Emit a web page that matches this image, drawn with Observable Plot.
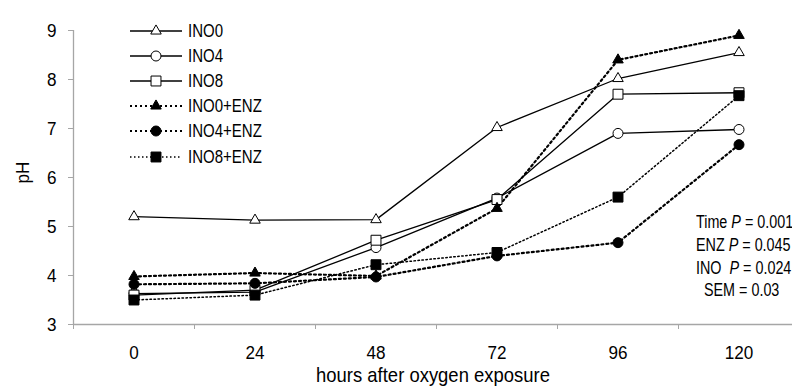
<!DOCTYPE html>
<html><head><meta charset="utf-8">
<script src="https://cdn.jsdelivr.net/npm/d3@7"></script>
<script src="https://cdn.jsdelivr.net/npm/@observablehq/plot@0.6"></script>
<style>
body{margin:0;background:#fff;font-family:"Liberation Sans",Arial,sans-serif;}
#wrap{position:relative;width:792px;height:388px;overflow:hidden;}
#legend{position:absolute;left:130px;top:18px;font-size:19px;color:#000;}
#legend .row{height:25.2px;display:flex;align-items:center;}
#legend svg{display:block;margin-right:6px;}
#legend span{display:inline-block;transform:scaleX(0.79);transform-origin:0 50%;}
#note{position:absolute;left:696px;top:211px;font-size:17.5px;line-height:22.8px;color:#000;white-space:nowrap;transform:scaleX(0.82);transform-origin:0 0;}
</style></head><body>
<div id="wrap"><div id="chart"></div><div id="legend"></div><div id="note"></div></div>
<script>
const hours = [0, 24, 48, 72, 96, 120];
const seriesNames = ["INO0", "INO4", "INO8", "INO0+ENZ", "INO4+ENZ", "INO8+ENZ"];
const ino0    = [5.20, 5.13, 5.14, 7.02, 8.02, 8.55];
const ino4    = [3.63, 3.66, 4.57, 5.58, 6.90, 6.98];
const ino8    = [3.60, 3.70, 4.72, 5.55, 7.70, 7.73];
const ino0enz = [3.98, 4.05, 3.99, 5.37, 8.40, 8.90];
const ino4enz = [3.82, 3.84, 3.97, 4.40, 4.67, 6.67];
const ino8enz = [3.50, 3.60, 4.22, 4.47, 5.60, 7.67];
const yTicks = [3, 4, 5, 6, 7, 8, 9];
const notes = [["Time ", "P", " = 0.001"], ["ENZ ", "P", " = 0.045"], ["INO\u00a0 ", "P", " = 0.024"], ["\u00a0\u00a0SEM = 0.03", "", ""]];

const values = [ino0, ino4, ino8, ino0enz, ino4enz, ino8enz];
const styles = [
  {symbol: "triangle", fill: "white", dash: null, sw: 1.3, r: 3.9},
  {symbol: "circle",   fill: "white", dash: null, sw: 1.3, r: 5},
  {symbol: "square",   fill: "white", dash: null, sw: 1.3, r: 5.6},
  {symbol: "triangle", fill: "black", dash: "2,3", sw: 2.2, r: 3.9},
  {symbol: "circle",   fill: "black", dash: "2,3", sw: 2.2, r: 5},
  {symbol: "square",   fill: "black", dash: "1.5,2.5", sw: 1.5, r: 5.6}
];
const data = seriesNames.flatMap((s, i) => hours.map((h, j) => ({series: s, idx: i, h, v: values[i][j]})));
const half = (hours[1] - hours[0]) / 2;
const xDomain = [hours[0] - half, hours[hours.length - 1] + half];
const bounds = d3.range(hours.length + 1).map(k => hours[0] - half + k * 2 * half);
const axisColor = "#a6a6a6";

const marks = [
  Plot.ruleX([xDomain[0]], {stroke: axisColor, strokeWidth: 1.3}),
  Plot.ruleY([yTicks[0]], {stroke: axisColor, strokeWidth: 1.3}),
  Plot.axisY({ticks: yTicks, tickSize: 5, tickPadding: 12, tickFormat: d => String(d), stroke: axisColor, fontSize: 19, color: "#000", label: null}),
  Plot.axisX({ticks: bounds, tickSize: 5, tickFormat: () => "", stroke: axisColor, label: null}),
  Plot.axisX({ticks: hours, tickSize: 0, tickPadding: 21, fontSize: 19, label: null}),
];
styles.forEach((st, i) => {
  const d = data.filter(e => e.idx === i);
  marks.push(Plot.line(d, {x: "h", y: "v", stroke: "black", strokeWidth: st.sw, strokeDasharray: st.dash}));
});
styles.forEach((st, i) => {
  const d = data.filter(e => e.idx === i);
  marks.push(Plot.dot(d, {x: "h", y: "v", symbol: () => st.symbol, fill: st.fill, stroke: "black", strokeWidth: 1, r: st.r}));
});
marks.push(Plot.text(["pH"], {frameAnchor: "left", dx: -51, dy: 6, rotate: -90, fontSize: 19, fill: "#000"}));
marks.push(Plot.text(["hours after oxygen exposure"], {frameAnchor: "bottom", dy: 57, fontSize: 20.5, fill: "#000"}));

const chart = Plot.plot({
  width: 792, height: 388,
  marginLeft: 73, marginTop: 30, marginBottom: 64, marginRight: 0,
  style: {fontFamily: '"Liberation Sans",Arial,sans-serif', background: "white", overflow: "visible"},
  x: {type: "linear", domain: xDomain, range: [73, 799]},
  y: {domain: [yTicks[0], yTicks[yTicks.length - 1]]},
  marks
});
d3.select(chart).selectAll("text").each(function() {
  const t = this.getAttribute("transform");
  if (t) this.setAttribute("transform", t + " scale(0.9,1)");
});
document.getElementById("chart").append(chart);

// legend
const leg = d3.select("#legend");
const sym = {triangle: d3.symbolTriangle, circle: d3.symbolCircle, square: d3.symbolSquare};
seriesNames.forEach((s, i) => {
  const st = styles[i];
  const row = leg.append("div").attr("class", "row");
  const svg = row.append("svg").attr("width", 52).attr("height", 14);
  svg.append("line").attr("x1", 0).attr("x2", 52).attr("y1", 7).attr("y2", 7)
    .attr("stroke", "black").attr("stroke-width", st.sw).attr("stroke-dasharray", st.dash);
  const area = Math.PI * st.r * st.r;
  svg.append("path").attr("d", d3.symbol(sym[st.symbol], area)()).attr("transform", "translate(26,7)")
    .attr("fill", st.fill).attr("stroke", "black");
  row.append("span").text(s);
});
const note = d3.select("#note");
notes.forEach(n => {
  const div = note.append("div");
  div.append("span").text(n[0]);
  div.append("i").text(n[1]);
  div.append("span").text(n[2]);
});
</script></body></html>
